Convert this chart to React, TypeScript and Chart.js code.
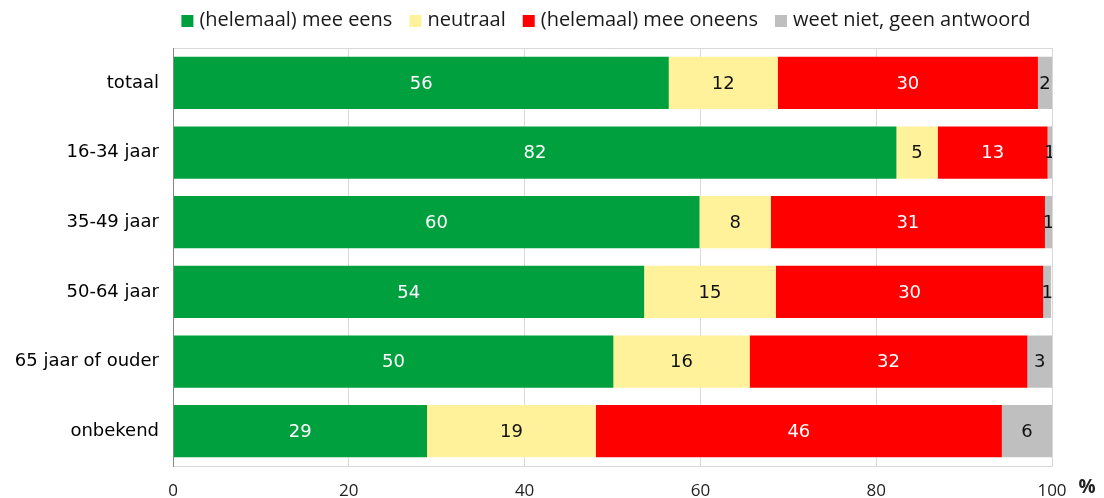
import React, { useEffect, useRef } from "react";
import { Chart, registerables } from "chart.js";

Chart.register(...registerables);

const categories = ["totaal", "16-34 jaar", "35-49 jaar", "50-64 jaar", "65 jaar of ouder", "onbekend"];
const seriesNames = ["(helemaal) mee eens", "neutraal", "(helemaal) mee oneens", "weet niet, geen antwoord"];
const eens = [56.4, 82.3, 59.9, 53.6, 50.1, 28.9];
const neutraal = [12.4, 4.7, 8.1, 15.0, 15.5, 19.2];
const oneens = [29.6, 12.5, 31.2, 30.4, 31.6, 46.2];
const weetNiet = [1.6, 0.5, 0.8, 0.9, 2.8, 5.7];
const xTicks = [0, 20, 40, 60, 80, 100];

const colors = ["#00A03E", "#FFF29A", "#FF0000", "#BFBFBF"];
const labelColors = ["#FFFFFF", "#111111", "#FFFFFF", "#111111"];

const LEGEND_FONT = '20px "Open Sans"';

const labelsPlugin = {
  id: "barLabels",
  afterDatasetsDraw(chart: any) {
    const { ctx, chartArea } = chart;
    ctx.save();
    ctx.beginPath();
    ctx.rect(chartArea.left, chartArea.top, chartArea.right - chartArea.left, chartArea.bottom - chartArea.top);
    ctx.clip();
    ctx.font = '18px "DejaVu Sans", sans-serif';
    ctx.textAlign = "center";
    ctx.textBaseline = "middle";
    chart.data.datasets.forEach((ds: any, di: number) => {
      const meta = chart.getDatasetMeta(di);
      meta.data.forEach((el: any, i: number) => {
        const p = el.getProps(["x", "y", "base"], true);
        const v = ds.data[i];
        ctx.fillStyle = labelColors[di];
        ctx.fillText(String(Math.round(v)), (p.x + p.base) / 2, p.y + 1);
      });
    });
    ctx.restore();

    ctx.save();
    ctx.strokeStyle = "#D9D9D9";
    ctx.lineWidth = 1;
    ctx.beginPath();
    ctx.moveTo(chartArea.left, chartArea.top + 0.5);
    ctx.lineTo(chartArea.right, chartArea.top + 0.5);
    ctx.stroke();
    ctx.strokeStyle = "#868686";
    ctx.beginPath();
    ctx.moveTo(chartArea.left + 0.5, chartArea.top);
    ctx.lineTo(chartArea.left + 0.5, chartArea.bottom);
    ctx.stroke();
    ctx.restore();
  },
  afterDraw(chart: any) {
    const { ctx, chartArea } = chart;
    ctx.save();
    ctx.font = 'bold 19px "Open Sans"';
    ctx.fillStyle = "#222";
    ctx.textAlign = "center";
    ctx.textBaseline = "middle";
    ctx.fillText("%", chartArea.right + 35, 488);

    ctx.font = LEGEND_FONT;
    ctx.textAlign = "left";
    const box = 12;
    const boxGap = 6;
    const itemGap = 17;
    const widths = seriesNames.map((n) => ctx.measureText(n).width);
    const total = widths.reduce((a, w) => a + box + boxGap + w, 0) + itemGap * (seriesNames.length - 1);
    let x = 606 - total / 2;
    const y = 20;
    seriesNames.forEach((n, i) => {
      ctx.fillStyle = colors[i];
      ctx.fillRect(x, y - 5, box, box);
      x += box + boxGap;
      ctx.fillStyle = "#1a1a1a";
      ctx.fillText(n, x, y);
      x += widths[i] + itemGap;
    });
    ctx.restore();
  },
};

export default function App() {
  const ref = useRef<HTMLCanvasElement | null>(null);
  useEffect(() => {
    if (!ref.current) return;
    const values = [eens, neutraal, oneens, weetNiet];
    const chart = new Chart(ref.current, {
      type: "bar",
      data: {
        labels: categories,
        datasets: seriesNames.map((name, i) => ({
          label: name,
          data: values[i],
          backgroundColor: colors[i],
          borderWidth: 0,
          categoryPercentage: 1,
          barPercentage: 0.75,
        })),
      },
      options: {
        indexAxis: "y",
        responsive: false,
        animation: false,
        layout: { padding: { top: 48, right: 52, left: 0, bottom: 0 } },
        plugins: { legend: { display: false }, tooltip: { enabled: false } },
        scales: {
          x: {
            stacked: true,
            min: 0,
            max: 100,
            afterBuildTicks: (s: any) => {
              s.ticks = xTicks.map((v) => ({ value: v }));
            },
            ticks: {
              padding: 15,
              font: { family: '"Open Sans"', size: 17 },
              color: "#222",
            },
            grid: { color: "#D9D9D9", drawTicks: false },
            border: { color: "#D9D9D9" },
            afterFit: (s: any) => {
              s.height = 32;
            },
          },
          y: {
            stacked: true,
            grid: { display: false, drawTicks: false },
            border: { color: "#868686" },
            ticks: {
              padding: 14,
              font: { family: '"DejaVu Sans"', size: 18 },
              color: "#000",
            },
            afterFit: (s: any) => {
              s.width = 173;
            },
          },
        },
      },
      plugins: [labelsPlugin],
    } as any);
    return () => chart.destroy();
  }, []);
  return (
    <div style={{ position: "fixed", left: 0, top: 0, width: 1104, height: 498, background: "#fff" }}>
      <canvas ref={ref} width={1104} height={498} style={{ display: "block" }} />
    </div>
  );
}
